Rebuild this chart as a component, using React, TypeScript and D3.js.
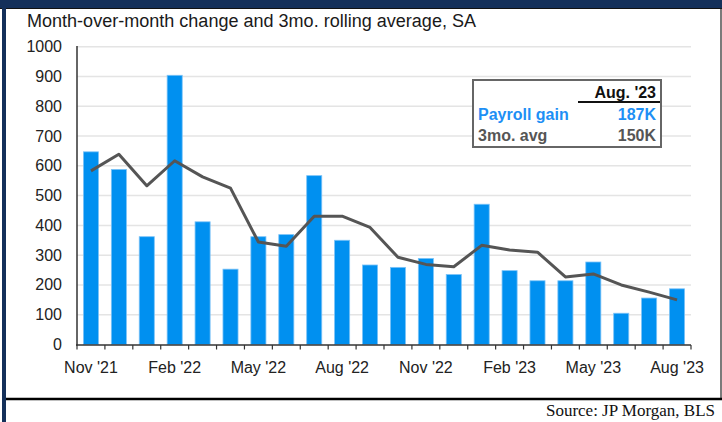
import React from "react";
import * as d3 from "d3";

const months = [
  "Nov '21", "Dec '21", "Jan '22", "Feb '22", "Mar '22", "Apr '22", "May '22", "Jun '22",
  "Jul '22", "Aug '22", "Sep '22", "Oct '22", "Nov '22", "Dec '22", "Jan '23", "Feb '23",
  "Mar '23", "Apr '23", "May '23", "Jun '23", "Jul '23", "Aug '23",
];
const payrollGain = [647, 588, 362, 904, 412, 253, 362, 369, 567, 350, 267, 259, 289, 235, 471, 248, 214, 214, 277, 105, 156, 187];
const rollingAvg = [583, 639, 533, 617, 563, 525, 344, 330, 431, 431, 393, 293, 269, 261, 333, 317, 310, 227, 237, 200, 176, 150];
const yTicks = [0, 100, 200, 300, 400, 500, 600, 700, 800, 900, 1000];
const xLabelMonths = ["Nov '21", "Feb '22", "May '22", "Aug '22", "Nov '22", "Feb '23", "May '23", "Aug '23"];

const title = "Month-over-month change and 3mo. rolling average, SA";
const source = "Source: JP Morgan, BLS";

const W = 722;
const H = 422;
const navy = "#14305a";
const barColor = "#0090f0";
const lineColor = "#555555";
const sans = "'Liberation Sans', Arial, sans-serif";

export default function App() {
  const x = d3.scaleBand<string>().domain(months).range([77, 691]).paddingInner(0.46).paddingOuter(0.23);
  const y = d3.scaleLinear().domain([0, 1000]).range([344.5, 46.7]);
  const line = d3
    .line<number>()
    .x((_, i) => (x(months[i]) as number) + x.bandwidth() / 2)
    .y((d) => y(d));
  const step = x.step();
  const boundaries = d3.range(months.length + 1).map((i) => 77 + i * step);

  return (
    <svg width={W} height={H} style={{ position: "absolute", left: 0, top: 0, background: "#fff" }}>
      {/* frame */}
      <rect x={0} y={0} width={W} height={8} fill={navy} />
      <line x1={0} x2={W} y1={8.5} y2={8.5} stroke="#111" strokeWidth={1} />
      <rect x={2} y={0} width={4} height={H} fill={navy} />
      <line x1={721} x2={721} y1={8} y2={398} stroke="#222" strokeWidth={1.2} />
      <line x1={6} x2={W} y1={399} y2={399} stroke="#000" strokeWidth={2.5} />

      <text x={27} y={26.5} fontFamily={sans} fontSize={18} fill="#1a1a1a" textLength={449} lengthAdjust="spacingAndGlyphs">
        {title}
      </text>

      {/* gridlines */}
      {yTicks.filter((t) => t > 0).map((t) => (
        <line key={t} x1={77} x2={691} y1={y(t)} y2={y(t)} stroke="#e4e4e4" strokeWidth={1.5} />
      ))}

      {/* y tick labels */}
      {yTicks.map((t) => (
        <text key={t} x={62} y={y(t) + 5.5} textAnchor="end" fontFamily={sans} fontSize={16} fill="#222">
          {t}
        </text>
      ))}

      {/* bars */}
      {payrollGain.map((v, i) => (
        <rect
          key={months[i]}
          x={x(months[i])}
          y={y(v)}
          width={x.bandwidth()}
          height={y(0) - y(v)}
          fill={barColor}
          stroke="#7cc3f7"
          strokeWidth={0.8}
        />
      ))}

      {/* axes */}
      <line x1={77} x2={77} y1={46} y2={345.5} stroke="#333" strokeWidth={1.5} />
      <line x1={76} x2={691} y1={345} y2={345} stroke="#333" strokeWidth={1.5} />
      {boundaries.map((bx, i) => (
        <line key={i} x1={bx} x2={bx} y1={345} y2={349.5} stroke="#333" strokeWidth={1.2} />
      ))}
      {xLabelMonths.map((m) => (
        <text
          key={m}
          x={(x(m) as number) + x.bandwidth() / 2}
          y={372.5}
          textAnchor="middle"
          fontFamily={sans}
          fontSize={16}
          fill="#222"
        >
          {m}
        </text>
      ))}

      {/* rolling average line */}
      <path d={line(rollingAvg) || ""} fill="none" stroke={lineColor} strokeWidth={3} strokeLinejoin="round" />

      {/* legend table */}
      <rect x={473} y={80} width={188} height={67} fill="#fff" stroke="#666" strokeWidth={2} />
      <text x={656} y={98} textAnchor="end" fontFamily={sans} fontWeight="bold" fontSize={16} fill="#111">
        Aug. '23
      </text>
      <line x1={578} x2={660} y1={102} y2={102} stroke="#111" strokeWidth={2} />
      <text x={478} y={120} fontFamily={sans} fontWeight="bold" fontSize={16} fill="#1e8ff5">
        Payroll gain
      </text>
      <text x={656} y={120} textAnchor="end" fontFamily={sans} fontWeight="bold" fontSize={16} fill="#1e8ff5">
        187K
      </text>
      <text x={478} y={141} fontFamily={sans} fontWeight="bold" fontSize={16} fill="#555">
        3mo. avg
      </text>
      <text x={656} y={141} textAnchor="end" fontFamily={sans} fontWeight="bold" fontSize={16} fill="#555">
        150K
      </text>

      <text x={715} y={416} textAnchor="end" fontFamily="'Liberation Serif', 'DejaVu Serif', serif" fontSize={17} fill="#111">
        {source}
      </text>
    </svg>
  );
}
